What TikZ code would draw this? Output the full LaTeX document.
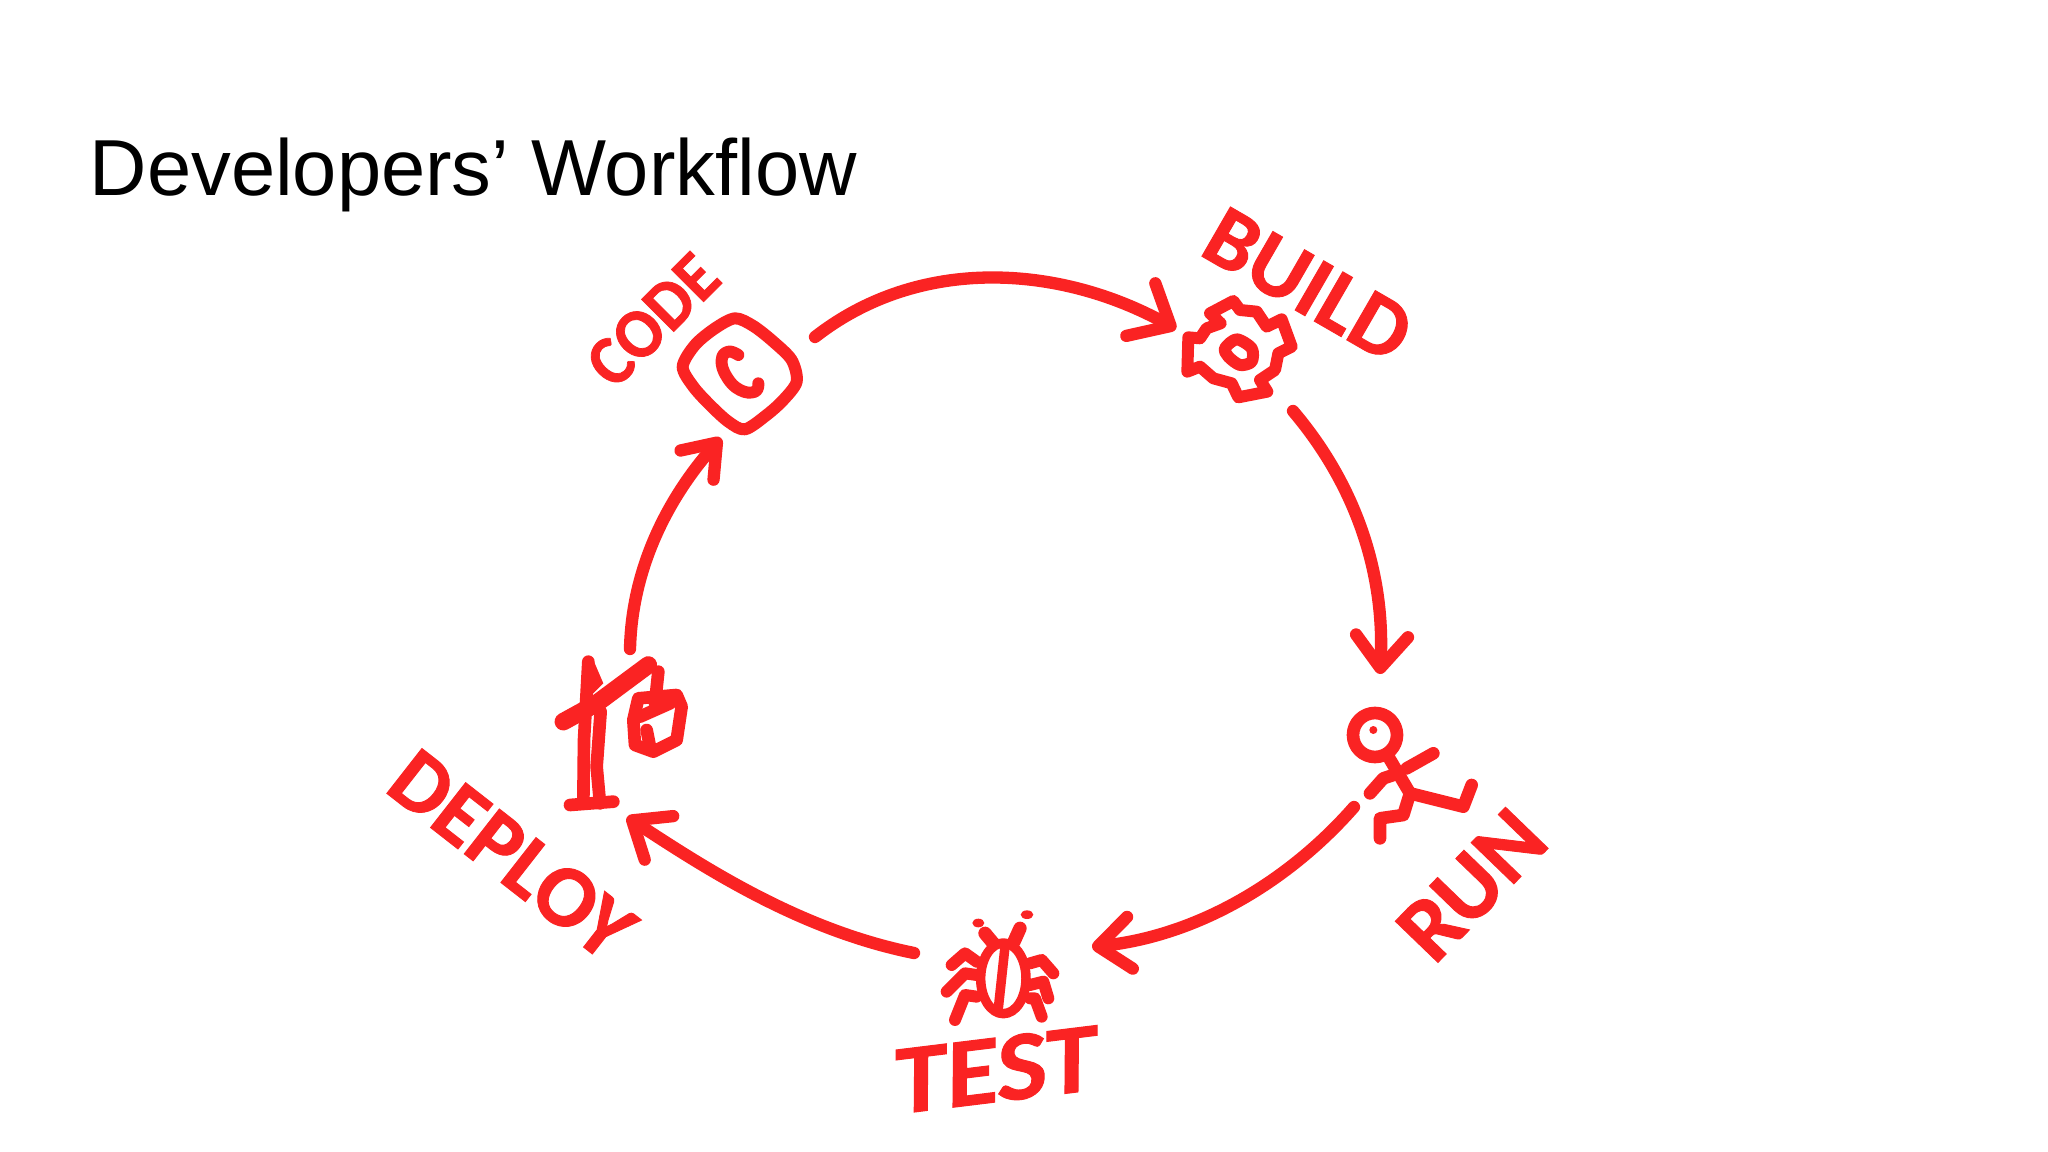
\documentclass[tikz,border=0pt]{standalone}
\usepackage{fontspec}
\setmainfont{Liberation Sans}
\newfontfamily\handfont[FakeBold=1]{Carlito}
\usetikzlibrary{arrows.meta}
\definecolor{markred}{RGB}{250,35,35}
\tikzset{
	flow/.style={draw=markred, line width=3.5pt, line cap=round, line join=round, ->},
	marker/.style={draw=markred, line width=3.4pt, line cap=round, line join=round},
	word/.style={text=markred, inner sep=0pt, font=\handfont\bfseries\fontsize{#1}{#1}\selectfont},
}
\begin{document}
\begin{tikzpicture}[x=0.01cm, y=-0.01cm, >={Straight Barb[round, length=3.2mm, width=5.2mm]}]
	\useasboundingbox (0,0) rectangle (2048,1152);
	\fill[white] (0,0) rectangle (2048,1152);
	\node[anchor=base west, inner sep=0pt, font=\fontsize{22.6}{26}\selectfont] (title) at (89,196) {Developers’ Workflow};
	% arrow ends
	\coordinate (codeout) at (815,337);
	\coordinate (buildin) at (1176,329);
	\coordinate (buildout) at (1293,411);
	\coordinate (runin) at (1380,674);
	\coordinate (runout) at (1354,807);
	\coordinate (testin) at (1092,947);
	\coordinate (testout) at (914,953);
	\coordinate (deployin) at (627,817);
	\coordinate (deployout) at (630,649);
	\coordinate (codein) at (721,438);
	\draw[flow, -{Straight Barb[round, length=3.4mm, width=6mm]}] (codeout) .. controls (920,255) and (1060,265) .. (buildin);
	\draw[flow] (buildout) .. controls (1360,490) and (1385,580) .. (runin);
	\draw[flow] (runout) .. controls (1290,880) and (1200,935) .. (testin);
	\draw[flow] (testout) .. controls (800,930) and (705,868) .. (deployin);
	\draw[flow, -{Straight Barb[round, length=3mm, width=4.4mm]}] (deployout) .. controls (632,560) and (675,490) .. (codein);
	% code
	\begin{scope}[shift={(560,200)}, scale=1/3]
		\draw[marker] plot[smooth cycle, tension=.5] coordinates {(525,355) (580,378) (640,425) (695,480) (710,545) (670,600) (620,645) (555,688) (505,665) (450,615) (400,560) (368,500) (405,435) (465,385)};
		\draw[marker] plot[smooth, tension=.8] coordinates {(535,465) (505,455) (485,480) (500,530) (540,570) (585,575) (595,550)};
	\end{scope}
	\node[word=20, rotate=45, xscale=.95] (codeword) at (653,320) {CODE};
	% build
	\begin{scope}[shift={(1150,200)}, scale=1/3]
		\draw[marker] (180,340) -- (250,303) -- (270,330) -- (320,335) -- (350,380) -- (395,358) -- (425,440) -- (385,460) -- (375,510) -- (330,540) -- (352,575) -- (265,592) -- (245,550) -- (190,535) -- (150,500) -- (112,515) -- (115,412) -- (150,415) -- (170,385) -- (212,370) -- cycle;
		\draw[marker] plot[smooth cycle] coordinates {(225,445) (260,418) (305,445) (305,485) (270,495) (235,470)};
	\end{scope}
	\node[word=25, rotate=-30] (buildword) at (1308,285) {BUILD};
	% run
	\begin{scope}[shift={(1320,690)}, scale=1/3]
		\draw[marker, line width=3.6pt] (165,135) circle (66);
		\fill[markred] (160,120) circle (12);
		\draw[marker, line width=3.6pt] (205,200) -- (270,310) -- (250,375) -- (180,385) -- (180,445);
		\draw[marker, line width=3.6pt] (270,310) -- (430,350) -- (455,285);
		\draw[marker, line width=3.6pt] (150,310) -- (190,265) -- (235,250);
		\draw[marker, line width=3.6pt] (260,235) -- (340,190);
	\end{scope}
	\node[word=26, rotate=46] (runword) at (1472,885) {RUN};
	% test
	\begin{scope}[shift={(870,900)}, scale=1/3]
		\draw[marker, line width=2.7pt] (400,235) ellipse (68 and 106);
		\draw[marker, line width=2.7pt] (405,140) -- (385,325);
		\draw[marker, line width=3.8pt] (345,100) -- (370,130);
		\draw[marker, line width=3.8pt] (450,85) -- (432,125);
		\fill[markred] (325,69) ellipse (18 and 13);
		\fill[markred] (471,44) ellipse (19 and 13);
		\foreach \px/\py/\qx/\qy/\rx/\ry in {320/185/285/160/245/195, 320/225/285/220/230/275, 320/290/285/285/255/360, 480/190/515/180/550/220, 480/255/520/245/535/295, 480/295/495/295/515/350}
			\draw[marker] (\px,\py) -- (\qx,\qy) -- (\rx,\ry);
	\end{scope}
	\node[word=28, rotate=7, xscale=1.08] (testword) at (995,1070) {\itshape TEST};
	% deploy
	\begin{scope}[shift={(380,640)}, scale=1/3]
		\fill[markred] (610,60) -- (640,60) -- (670,130) -- (630,170) -- cycle;
		\draw[marker, line width=3.6pt] (625,65) -- (612,300) -- (610,490);
		\draw[marker, line width=3.6pt] (662,215) -- (650,380) -- (660,490);
		\draw[marker, line width=3.6pt] (570,495) -- (700,485);
		\draw[marker, line width=5pt] (550,245) -- (650,190) -- (805,75);
		\draw[marker, line width=3.6pt] (835,95) -- (825,190);
		\draw[marker, line width=3.6pt] (775,175) -- (890,165) -- (905,200) -- (890,300) -- (820,335) -- (765,315) -- (760,240) -- cycle;
		\draw[marker, line width=3.6pt] (780,230) -- (870,190);
		\draw[marker, line width=3.6pt] (800,270) -- (810,320);
	\end{scope}
	\node[word=25, rotate=-38] (deployword) at (512,855) {DEPLOY};
\end{tikzpicture}
\end{document}
